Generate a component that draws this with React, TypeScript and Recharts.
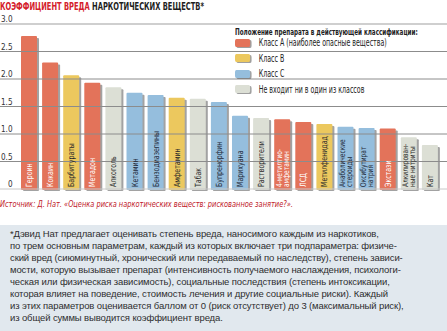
import React from 'react'
import { BarChart, Bar, XAxis, YAxis, ReferenceLine, LabelList } from 'recharts'

const drugs = [
  'Героин', 'Кокаин', 'Барбитураты', 'Метадон', 'Алкоголь', 'Кетамин', 'Бензодиазепины',
  'Амфетамин', 'Табак', 'Бупренорфин', 'Марихуана', 'Растворители', '4-метилтио-|амфетамин',
  'ЛСД', 'Метилфенидад', 'Анаболические|стероиды', 'Оксибутират|натрия', 'Экстази',
  'Алкилирован-|ные нитриты', 'Кат',
]
const harm = [
  2.78, 2.3, 2.07, 1.93, 1.85, 1.75, 1.71, 1.66, 1.64, 1.58,
  1.33, 1.29, 1.27, 1.22, 1.18, 1.13, 1.11, 1.1, 0.94, 0.8,
]
// A, B, C или N (вне классов)
const drugClass = ['A', 'A', 'B', 'A', 'N', 'C', 'C', 'B', 'N', 'C', 'C', 'N', 'A', 'A', 'B', 'C', 'C', 'A', 'N', 'N']
const yTicks = [0, 0.5, 1, 1.5, 2, 2.5, 3]
const yTickLabels = ['0', '0.5', '1.0', '1.5', '2.0', '2.5', '3.0']

const classKeys = ['A', 'B', 'C', 'N']
const classNames = ['Класс А (наиболее опасные вещества)', 'Класс В', 'Класс С', 'Не входит ни в один из классов']
const classColors: Record<string, string> = { A: '#e3735a', B: '#ecc85e', C: '#95bedd', N: '#dcdfd5' }
const classText: Record<string, string> = { A: '#ffffff', B: '#2a2a2a', C: '#1f2a3a', N: '#2a2a2a' }

const noteLines = [
  '*Дэвид Нат предлагает оценивать степень вреда, наносимого каждым из наркотиков,',
  'по трем основным параметрам, каждый из которых включает три подпараметра: физиче-',
  'ский вред (сиюминутный, хронический или передаваемый по наследству), степень зависи-',
  'мости, которую вызывает препарат (интенсивность получаемого наслаждения, психологи-',
  'ческая или физическая зависимость), социальные последствия (степень интоксикации,',
  'которая влияет на поведение, стоимость лечения и другие социальные риски). Каждый',
  'из этих параметров оценивается баллом от 0 (риск отсутствует) до 3 (максимальный риск),',
  'из общей суммы выводится коэффициент вреда.',
]

const data = drugs.map((name, i) => ({ name, value: harm[i], cls: drugClass[i] }))

const narrow = '"DejaVu Sans Condensed", "DejaVu Sans", sans-serif'

const BarShape = (props: any) => {
  const { x, y, width, height, payload } = props
  if (!height || height <= 0) return null
  return (
    <g>
      <rect x={x + 2} y={y + 2} width={width} height={height} fill='#555' opacity={0.55} rx={1} />
      <rect x={x} y={y} width={width} height={height + 1} fill={classColors[payload.cls]} rx={1} />
    </g>
  )
}

const BarLabel = (props: any) => {
  const { x, y, width, height, value, index } = props
  const cls = drugClass[index]
  const lines = String(value).split('|')
  const cx = x + width / 2
  const bottom = y + height - 2
  const lh = 7
  return (
    <g>
      {lines.map((ln, k) => {
        const off = (k - (lines.length - 1) / 2) * lh + 3
        return (
          <text
            key={k}
            x={0}
            y={0}
            transform={`translate(${cx + off} ${bottom}) rotate(-90) scale(0.82 1)`}
            fontSize={lines.length > 1 ? 8 : 8.5}
            fontFamily={narrow}
            fill={classText[cls]}
            textAnchor='start'
          >
            {ln}
          </text>
        )
      })}
    </g>
  )
}

export default function App() {
  return (
    <div style={{ position: 'absolute', left: 0, top: 0, width: 447, height: 331, background: '#fff', overflow: 'hidden' }}>
      <div
        style={{
          position: 'absolute', left: 0, top: 0, fontFamily: narrow, fontWeight: 'bold', fontSize: 10.5,
          lineHeight: '12px', whiteSpace: 'nowrap', transform: 'scaleX(0.71)', transformOrigin: '0 0',
        }}
      >
        <span style={{ color: '#d4202a' }}>КОЭФФИЦИЕНТ ВРЕДА</span> <span style={{ color: '#1e1e1e' }}>НАРКОТИЧЕСКИХ ВЕЩЕСТВ*</span>
      </div>

      <div style={{ position: 'absolute', left: 0, top: 0 }}>
        <BarChart width={447} height={200} data={data} margin={{ top: 24, right: 0, left: 0, bottom: 11 }} barSize={16}>
          <XAxis dataKey='name' hide padding={{ left: 18, right: 7 }} />
          <YAxis hide domain={[0, 3]} ticks={yTicks} />
          {yTicks.map((t, i) => (
            <ReferenceLine
              key={t}
              y={t}
              stroke={t === 3 ? '#cfcfcf' : t === 0 ? '#c8c8c8' : '#8c8c8c'}
              strokeWidth={t === 3 ? 2 : 1}
              label={(p: any) => (
                <text
                  x={0}
                  y={0}
                  transform={`translate(${t === 0 ? 8 : 1} ${p.viewBox.y - 2}) scale(0.85 1)`}
                  fontSize={9.5}
                  fontFamily={narrow}
                  fill='#333'
                >
                  {yTickLabels[i]}
                </text>
              )}
            />
          ))}
          <Bar dataKey='value' shape={BarShape} isAnimationActive={false}>
            <LabelList dataKey='name' content={BarLabel} />
          </Bar>
        </BarChart>
      </div>

      <div
        style={{
          position: 'absolute', left: 235, top: 27, fontFamily: narrow, fontSize: 9.7, color: '#222',
          transform: 'scaleX(0.72)', transformOrigin: '0 0',
        }}
      >
        <div style={{ fontWeight: 'bold', whiteSpace: 'nowrap', lineHeight: '10px', fontSize: 8.7 }}>
          Положение препарата в действующей классификации:
        </div>
        {classKeys.map((k, i) => (
          <div key={k} style={{ display: 'flex', alignItems: 'center', height: 15.5, whiteSpace: 'nowrap', marginTop: i === 0 ? -2 : 0 }}>
            <span
              style={{
                display: 'inline-block',
                width: 21,
                height: 8,
                borderRadius: 2,
                background: classColors[k],
                boxShadow: '2px 1px 0 rgba(80,80,80,0.55)',
                marginRight: 12,
              }}
            />
            <span>{classNames[i]}</span>
          </div>
        ))}
      </div>

      <div
        style={{
          position: 'absolute', left: 0, top: 199, fontFamily: narrow, fontStyle: 'italic', fontSize: 9,
          color: '#c0202a', whiteSpace: 'nowrap', transform: 'scaleX(0.82)', transformOrigin: '0 0',
        }}
      >
        Источник: Д. Нат. «Оценка риска наркотических веществ: рискованное занятие?».
      </div>

      <div style={{ position: 'absolute', left: 0, top: 225, width: 447, height: 106, background: '#e1e8ee' }}>
        <div
          style={{
            paddingTop: 3, paddingLeft: 10, fontFamily: '"Liberation Sans", Arial, sans-serif', fontSize: 9.5,
            lineHeight: '12px', color: '#2e2e2e', letterSpacing: -0.12,
          }}
        >
          {noteLines.map((l, i) => (
            <div key={i} style={{ whiteSpace: 'nowrap' }}>{l}</div>
          ))}
        </div>
      </div>
    </div>
  )
}
